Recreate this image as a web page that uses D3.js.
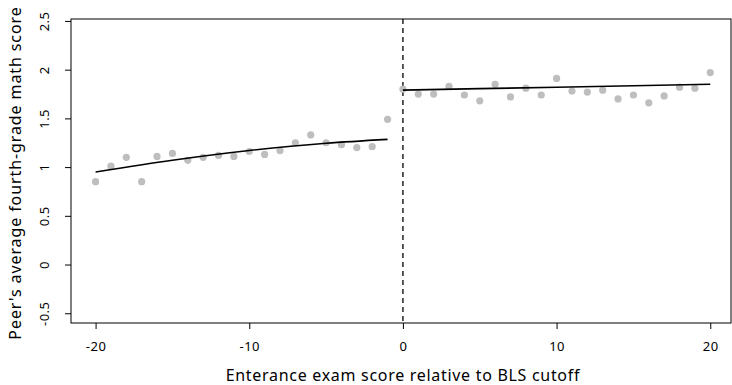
<!DOCTYPE html>
<html>
<head>
<meta charset="utf-8">
<script src="https://cdn.jsdelivr.net/npm/d3@7"></script>
<style>
  body { margin: 0; background: #fff; }
  text { font-family: "Noto Sans", "DejaVu Sans", sans-serif; }
</style>
</head>
<body>
<svg id="chart"></svg>
<script>
// binned means, left and right of the cutoff
const leftX = [-20,-19,-18,-17,-16,-15,-14,-13,-12,-11,-10,-9,-8,-7,-6,-5,-4,-3,-2,-1]
const leftY = [0.85,1.01,1.10,0.85,1.11,1.14,1.07,1.10,1.12,1.11,1.16,1.13,1.17,1.25,1.33,1.25,1.23,1.20,1.21,1.49]
const rightX = [0,1,2,3,4,5,6,7,8,9,10,11,12,13,14,15,16,17,18,19,20]
const rightY = [1.80,1.75,1.75,1.83,1.74,1.68,1.85,1.72,1.81,1.74,1.91,1.78,1.77,1.79,1.70,1.74,1.66,1.73,1.82,1.81,1.97]

// fitted curves
const fitLeftX = [-20,-15,-10,-5,-1]
const fitLeftY = [0.95,1.07,1.17,1.245,1.285]
const fitRightX = [0,10,20]
const fitRightY = [1.79,1.82,1.85]

const xTicks = [-20,-10,0,10,20]
const yTicks = [-0.5,0,0.5,1,1.5,2,2.5]

const W = 732, H = 385
const box = {left: 71, right: 731, top: 19, bottom: 323}

const svg = d3.select("#chart").attr("width", W).attr("height", H)

const x = d3.scaleLinear().domain([-21.6, 21.35]).range([box.left, box.right])
const y = d3.scaleLinear().domain([-0.6, 2.52]).range([box.bottom, box.top])

// box
svg.append("rect")
    .attr("x", box.left).attr("y", box.top)
    .attr("width", box.right - box.left).attr("height", box.bottom - box.top)
    .attr("fill", "none").attr("stroke", "#000").attr("stroke-width", 1)

// x axis
const xAxis = svg.append("g")
    .attr("transform", `translate(0, ${box.bottom})`)
    .call(d3.axisBottom(x).tickValues(xTicks).tickSize(6).tickPadding(13).tickFormat(d => String(d)))
xAxis.select(".domain").remove()
xAxis.selectAll("text").style("font-size", "13px").style("letter-spacing", "0.5px").attr("fill", "#000")

// y axis, labels turned like R's default
const yAxis = svg.append("g")
    .attr("transform", `translate(${box.left}, 0)`)
    .call(d3.axisLeft(y).tickValues(yTicks).tickSize(6).tickFormat(d => String(d)))
yAxis.select(".domain").remove()
yAxis.selectAll("text")
    .style("font-size", "13px").style("letter-spacing", "0.5px").attr("fill", "#000")
    .attr("text-anchor", "middle")
    .attr("x", 0).attr("dy", 0)
    .attr("transform", "translate(-22,0) rotate(-90)")

// cutoff line
svg.append("line")
    .attr("x1", x(0)).attr("x2", x(0))
    .attr("y1", box.top).attr("y2", box.bottom)
    .attr("stroke", "#000").attr("stroke-width", 1.3)
    .attr("stroke-dasharray", "5,4")

// dots
const pts = leftX.map((d, i) => [d, leftY[i]]).concat(rightX.map((d, i) => [d, rightY[i]]))
svg.selectAll("circle.dot")
    .data(pts)
    .join("circle")
    .attr("class", "dot")
    .attr("cx", d => x(d[0]))
    .attr("cy", d => y(d[1]))
    .attr("r", 3.6)
    .attr("fill", "#bebebe")

// fitted lines
const line = d3.line()
    .x(d => x(d[0]))
    .y(d => y(d[1]))
    .curve(d3.curveMonotoneX)

svg.append("path")
    .datum(fitLeftX.map((d, i) => [d, fitLeftY[i]]))
    .attr("d", line).attr("fill", "none").attr("stroke", "#000").attr("stroke-width", 1.6)
svg.append("path")
    .datum(fitRightX.map((d, i) => [d, fitRightY[i]]))
    .attr("d", line).attr("fill", "none").attr("stroke", "#000").attr("stroke-width", 1.6)

// axis titles
svg.append("text")
    .attr("x", x(0)).attr("y", 381)
    .attr("text-anchor", "middle")
    .style("font-size", "16px")
    .style("letter-spacing", "0.7px")
    .text("Enterance exam score relative to BLS cutoff")

svg.append("text")
    .attr("transform", `translate(21, ${(box.top + box.bottom) / 2 + 2}) rotate(-90)`)
    .attr("text-anchor", "middle")
    .style("font-size", "16px")
    .style("letter-spacing", "0.9px")
    .text("Peer's average fourth-grade math score")
</script>
</body>
</html>
